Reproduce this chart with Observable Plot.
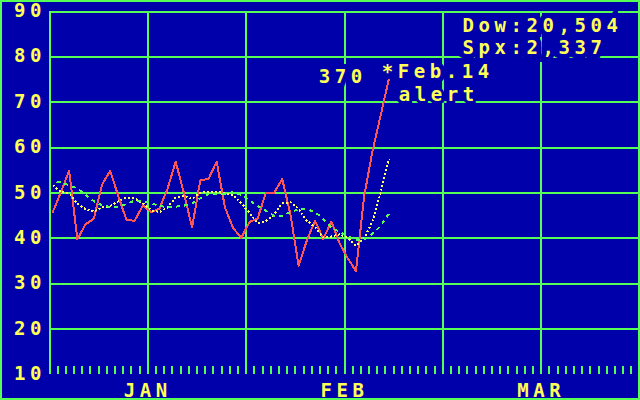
<!DOCTYPE html>
<html>
<head>
<meta charset="utf-8">
<script src="https://cdn.jsdelivr.net/npm/d3@7"></script>
<script src="https://cdn.jsdelivr.net/npm/@observablehq/plot@0.6"></script>
<style>
  html, body { margin: 0; padding: 0; background: #0000AA; }
  #chart svg { display: block; outline: 2px solid #55FF55; outline-offset: -2px; }
  #chart svg text { letter-spacing: 4.56px; }
</style>
</head>
<body>
<div id="chart"></div>
<script>
// ---- data ----
const months = ["JAN", "FEB", "MAR"];
const monthTicks = [12, 36, 60];
const gridX = [0, 12, 24, 36, 48, 60, 72];
const gridY = [20, 30, 40, 50, 60, 70, 80, 90];
const yTicks = [10, 20, 30, 40, 50, 60, 70, 80, 90];
const dayTicks = d3.range(1, 72);

// daily index (solid red)
const red = [45.8, 50.2, 54.9, 39.8, 43.1, 44.3, 51.8, 54.9, 49.3, 44.0, 43.9, 47.3, 45.8, 46.5,
  50.9, 56.9, 50.0, 42.4, 52.8, 53.1, 56.9, 46.9, 42.3, 40.1, 43.6, 44.4, 50.0, 50.0, 53.1, 45.3,
  34.0, 39.5, 43.9, 39.9, 43.7, 38.9, 35.6, 32.8, 49.3, 59.1, 67.0, 75.0];
// dotted yellow average
const yellow = [51.7, 50.2, 49.9, 47.7, 46.4, 45.9, 46.8, 47.1, 48.2, 49.0, 48.8, 47.7, 46.2, 45.8,
  46.8, 49.0, 49.4, 48.7, 50.0, 50.3, 50.3, 49.9, 49.6, 47.8, 45.6, 43.4, 43.8, 45.3, 47.7, 48.0,
  46.5, 43.9, 42.5, 40.2, 40.4, 40.9, 40.1, 38.4, 40.0, 43.7, 50.0, 57.5];
// dashed green average
const green = [52.7, 52.3, 51.7, 51.0, 49.6, 48.2, 47.3, 46.9, 47.0, 47.6, 48.3, 48.1, 47.7, 47.2,
  46.8, 47.0, 47.2, 47.7, 48.8, 49.7, 49.8, 49.8, 50.2, 49.6, 48.4, 47.1, 46.1, 45.0, 45.0, 45.8,
  46.4, 46.4, 45.8, 44.3, 42.4, 41.4, 40.5, 39.7, 39.8, 41.0, 42.7, 45.4];

const dowQuote = "Dow:20,504";
const spxQuote = "Spx:2,337";
const pointLabel = "370";
const alertDate = "*Feb.14";
const alertWord = "alert";

// ---- colours (CGA palette) ----
const BLUE = "#0000AA", GREEN = "#55FF55", YELLOW = "#FFFF55", RED = "#FF5555";

const rows = red.map((v, i) => ({x: i + 0.4, red: v, yellow: yellow[i], green: green[i]}));
const last = rows[rows.length - 1];
const font = {fontFamily: "DejaVu Sans Mono", fontWeight: "bold", fontSize: 19};
const halo = {stroke: BLUE, strokeWidth: 10, strokeLinejoin: "miter", paintOrder: "stroke"};

const chart = Plot.plot({
  width: 640,
  height: 400,
  marginLeft: 49,
  marginRight: 1,
  marginTop: 11,
  marginBottom: 26,
  x: {domain: [0, 72], axis: null},
  y: {domain: [10, 90], axis: null},
  style: {background: BLUE, fontFamily: "DejaVu Sans Mono"},
  marks: [
    Plot.ruleY(gridY, {stroke: GREEN, strokeWidth: 2, shapeRendering: "crispEdges"}),
    Plot.ruleX(gridX, {stroke: GREEN, strokeWidth: 2, shapeRendering: "crispEdges"}),
    Plot.ruleX(dayTicks, {stroke: GREEN, strokeWidth: 2, insetTop: 355, shapeRendering: "crispEdges"}),
    Plot.line(rows, {x: "x", y: "red", stroke: RED, strokeWidth: 2, shapeRendering: "crispEdges"}),
    Plot.line(rows, {x: "x", y: "yellow", stroke: YELLOW, strokeWidth: 2, strokeDasharray: "2,2",
      strokeLinecap: "butt", shapeRendering: "crispEdges"}),
    Plot.line(rows, {x: "x", y: "green", stroke: GREEN, strokeWidth: 2, strokeDasharray: "4,4",
      strokeDashoffset: 4, strokeLinecap: "butt", shapeRendering: "crispEdges"}),
    Plot.axisY(yTicks, {anchor: "left", tickSize: 0, tickPadding: 3.5, dy: -0.5, fill: YELLOW,
      label: null, ...font}),
    Plot.text(months.map((m, i) => ({m, x: monthTicks[i]})), {x: "x", text: "m", frameAnchor: "bottom",
      lineAnchor: "bottom", dy: 22, fill: YELLOW, ...font}),
    Plot.text([dowQuote], {frameAnchor: "top-left", lineAnchor: "middle", dx: 413, dy: 14.85,
      textAnchor: "start", fill: YELLOW, ...font, ...halo}),
    Plot.text([spxQuote], {frameAnchor: "top-left", lineAnchor: "middle", dx: 413, dy: 36.85,
      textAnchor: "start", fill: YELLOW, ...font, ...halo}),
    Plot.text([last], {x: "x", y: "red", text: () => pointLabel, textAnchor: "start", dx: -70, dy: -2.3,
      fill: YELLOW, ...font, ...halo}),
    Plot.text([last], {x: "x", y: "red", text: () => alertDate, textAnchor: "start", dx: -7, dy: -8,
      fill: YELLOW, ...font, ...halo}),
    Plot.text([last], {x: "x", y: "red", text: () => alertWord, textAnchor: "start", dx: 10, dy: 15,
      fill: YELLOW, ...font, ...halo, strokeWidth: 6})
  ]
});
document.getElementById("chart").appendChild(chart);
</script>
</body>
</html>
